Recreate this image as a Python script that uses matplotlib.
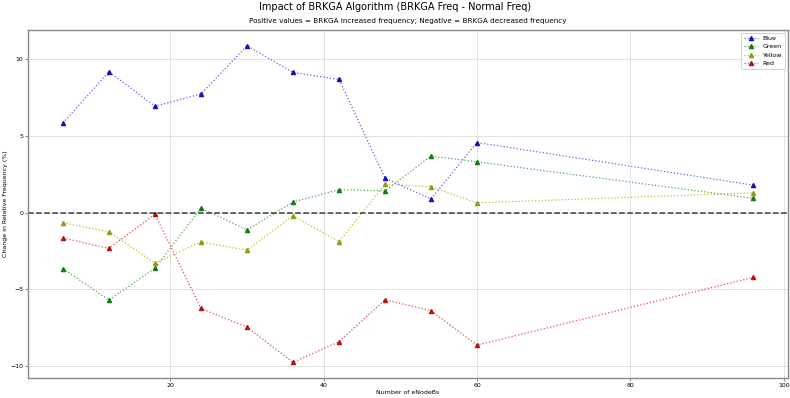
import matplotlib.pyplot as plt

# eNodeB counts and change in relative frequency (BRKGA - Normal), in %
enodebs = [6, 12, 18, 24, 30, 36, 42, 48, 54, 60, 96]
blue = [5.85, 9.2, 6.95, 7.75, 10.9, 9.15, 8.7, 2.25, 0.9, 4.58, 1.8]
green = [-3.65, -5.7, -3.62, 0.3, -1.12, 0.7, 1.5, 1.43, 3.7, 3.32, 0.94]
yellow = [-0.65, -1.25, -3.3, -1.9, -2.45, -0.2, -1.88, 1.85, 1.7, 0.64, 1.3]
red = [-1.65, -2.33, -0.1, -6.25, -7.47, -9.76, -8.42, -5.68, -6.4, -8.64, -4.22]

series = [
    ("Blue", blue, "#4444ff", "#0000aa"),
    ("Green", green, "#2ca02c", "#007000"),
    ("Yellow", yellow, "#b5b500", "#8f8f00"),
    ("Red", red, "#e03030", "#aa0000"),
]

fig, ax = plt.subplots(figsize=(7.9, 3.98), dpi=100)

for name, vals, lc, mc in series:
    ax.plot(enodebs, vals, linestyle=":", linewidth=0.9, color=lc, alpha=0.85,
            marker="^", markersize=3, markerfacecolor=mc, markeredgecolor=mc,
            label=name)

ax.axhline(0, color="black", linestyle="--", linewidth=1.1, alpha=0.75)

ax.set_xlabel("Number of eNodeBs", fontsize=4.5, labelpad=1.5)
ax.set_ylabel("Change in Relative Frequency (%)", fontsize=4.5, labelpad=2)
ax.set_title("Positive values = BRKGA increased frequency; Negative = BRKGA decreased frequency",
             fontsize=5.2, pad=5)
fig.suptitle("Impact of BRKGA Algorithm (BRKGA Freq - Normal Freq)", fontsize=7, y=0.995)

ax.tick_params(labelsize=4.5, length=2, width=0.5, pad=1.5, color="#555555")
ax.grid(True, color="#dddddd", linewidth=0.6)
for s in ax.spines.values():
    s.set_color("#888888")
    s.set_linewidth(1.0)

leg = ax.legend(fontsize=4.5, loc="upper right", framealpha=1, handlelength=2.2)
leg.get_frame().set_linewidth(0.6)

fig.subplots_adjust(left=0.036, right=0.997, top=0.925, bottom=0.05)
fig.savefig("out.png", dpi=100)
